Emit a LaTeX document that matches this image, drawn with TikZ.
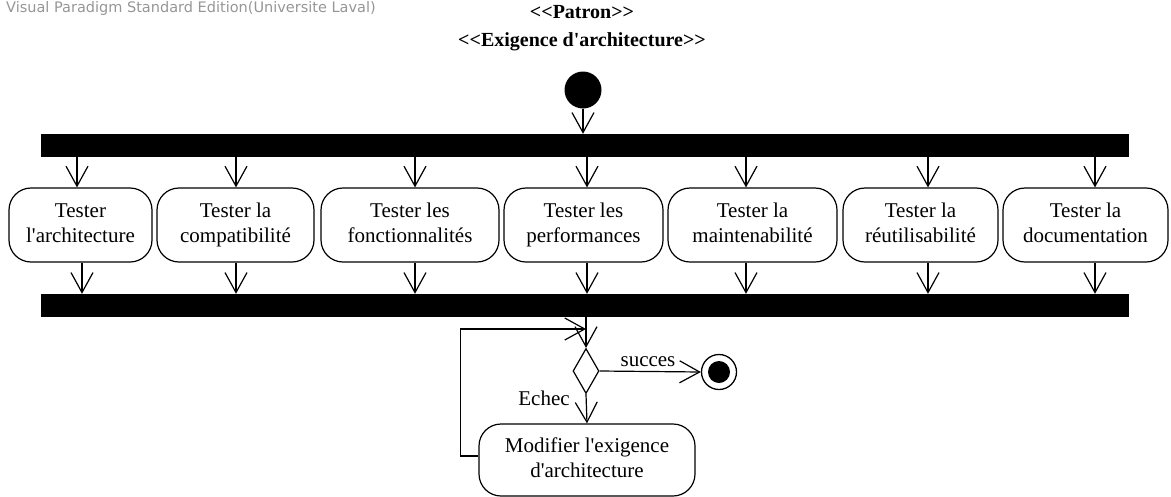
\documentclass[tikz,border=0pt]{standalone}
\usepackage{fontspec}
\setmainfont{Liberation Serif}
\newfontfamily\wmfont{DejaVu Sans}
\usetikzlibrary{arrows.meta,shapes.geometric}
\definecolor{wmgray}{RGB}{150,150,150}
\newcommand\apo{\textquotesingle}
% two-line label with fixed line heights so every box centres alike
\newcommand\twoline[2]{\rule{0pt}{15pt}#1\\#2\rule[-5pt]{0pt}{5pt}}
\begin{document}
\begin{tikzpicture}[x=1pt,y=-1pt,
  every node/.style={font=\fontsize{21}{25}\selectfont},
  action/.style={draw, rounded corners=22pt, line width=1.2pt, minimum height=74pt,
                 align=center, inner sep=0pt},
  bar/.style={fill=black, draw=none, inner sep=0pt, minimum height=23pt, minimum width=1088pt},
  flow/.style={line width=1.2pt, -{Straight Barb[length=20pt,width=22pt,line width=1.2pt]}},
]
\useasboundingbox (0,0) rectangle (1171,496);

% watermark and stereotypes
\node[anchor=base west, text=wmgray, font=\wmfont\fontsize{14.5}{16}\selectfont, inner sep=0pt]
  (wm) at (6,12) {Visual Paradigm Standard Edition(Universite Laval)};
\node[align=center, font=\bfseries\fontsize{20}{28}\selectfont] (title) at (582,28)
  {<{}<Patron>{}>\\<{}<Exigence d\apo architecture>{}>};

% initial node and fork
\node[circle, fill=black, inner sep=0pt, minimum size=37pt] (init) at (583,90) {};
\node[bar] (fork) at (585,145.5) {};
\node[bar] (join) at (585,305.5) {};
\draw[flow] (init.south) -- (init.south |- fork.north);

% parallel test actions
\node[action, minimum width=143pt] (t1) at (80.5,225)  {\twoline{Tester}{l\apo architecture}};
\node[action, minimum width=157pt] (t2) at (235.5,225) {\twoline{Tester la}{compatibilité}};
\node[action, minimum width=178pt] (t3) at (410,225)   {\twoline{Tester les}{fonctionnalités}};
\node[action, minimum width=159pt] (t4) at (583.5,225) {\twoline{Tester les}{performances}};
\node[action, minimum width=169pt] (t5) at (752.5,225) {\twoline{Tester la}{maintenabilité}};
\node[action, minimum width=155pt] (t6) at (920.5,225) {\twoline{Tester la}{réutilisabilité}};
\node[action, minimum width=165pt] (t7) at (1085.5,225) {\twoline{Tester la}{documentation}};

\foreach \i/\xt/\xb in {1/77/82, 2/236/236, 3/415/415, 4/587/587, 5/746/746, 6/928/928, 7/1095/1095}{
  \coordinate (in\i) at (\xt,0);
  \coordinate (out\i) at (\xb,0);
  \draw[flow] (fork.south -| in\i) -- (t\i.north -| in\i);
  \draw[flow] (t\i.south -| out\i) -- (join.north -| out\i);
}

% decision, final node and rework loop
\node[diamond, draw, line width=1.2pt, inner sep=0pt, minimum width=26pt, minimum height=45pt]
  (dec) at (586,371) {};
\node[circle, draw, line width=1.3pt, inner sep=0pt, minimum size=35pt] (fin) at (719,372) {};
\node[circle, fill=black, inner sep=0pt, minimum size=22pt] (findot) at (fin.center) {};
\node[action, minimum width=216pt, minimum height=72pt] (mod) at (587,460)
  {\twoline{Modifier l\apo exigence}{d\apo architecture}};
\coordinate (merge) at (586,329);

\draw[flow] (join.south -| dec.north) -- (dec.north);
\draw[flow] (dec.east) -- (fin.west);
\draw[flow] (dec.south) -- (mod.north);
\draw[flow] ([yshift=4pt]mod.west) -- ++(-18,0) |- (merge);

\node (lsucc) at (648,362) {succes};
\node (lechec) at (544,398) {Echec};
\end{tikzpicture}
\end{document}
